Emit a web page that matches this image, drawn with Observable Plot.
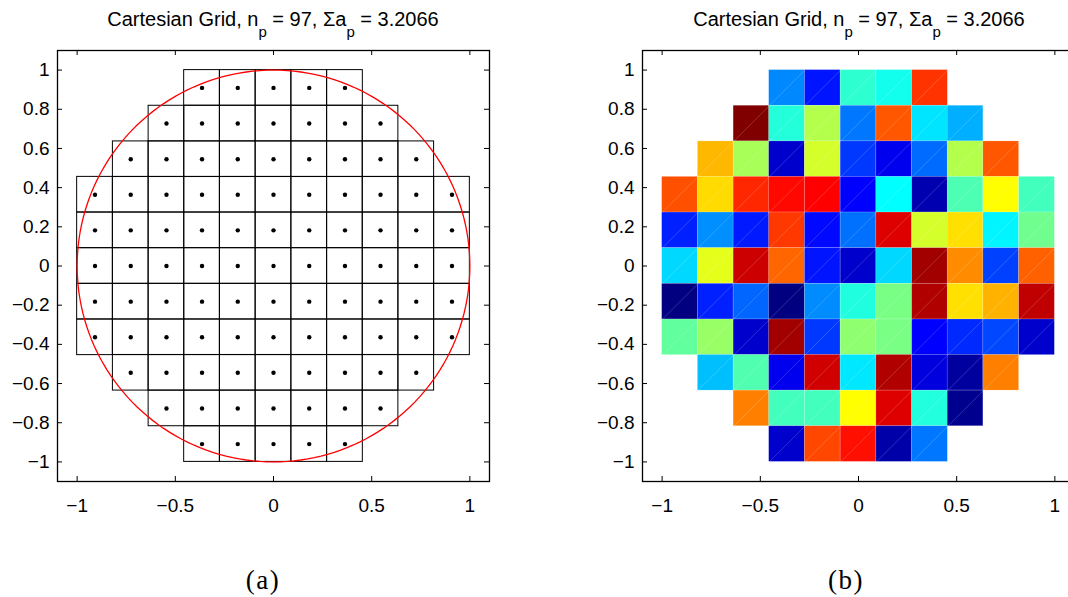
<!DOCTYPE html>
<html>
<head>
<meta charset="utf-8">
<script src="https://cdn.jsdelivr.net/npm/d3@7"></script>
<script src="https://cdn.jsdelivr.net/npm/@observablehq/plot@0.6"></script>
<style>
  html, body { margin: 0; padding: 0; background: #fff; }
  #wrap { position: relative; width: 1068px; height: 597px; overflow: hidden; background: #fff; }
  .panel { position: absolute; top: 0; width: 534px; height: 530px; }
  .panel svg { max-width: none !important; }
  .panel svg text { font-size: 19px; font-family: "Liberation Sans", Arial, sans-serif; fill: #000; }
  .title { position: absolute; top: 8px; font-family: "Liberation Sans", Arial, sans-serif; font-size: 20px; line-height: 23px; color: #000; white-space: nowrap; transform: translateX(-50%); }
  .title .sub { font-size: 15px; position: relative; top: 11px; }
  .cap { position: absolute; top: 565px; font-family: "Liberation Serif", "DejaVu Serif", serif; font-size: 27px; line-height: 31px; letter-spacing: 1.5px; color: #000; transform: translateX(-50%); }
</style>
</head>
<body>
<div id="wrap">
  <div id="left" class="panel" style="left:0px"></div>
  <div id="right" class="panel" style="left:585px"></div>
  <div class="title" style="left:273px">Cartesian Grid, n<span class="sub">p</span> = 97, Σa<span class="sub">p</span> = 3.2066</div>
  <div class="title" style="left:859px">Cartesian Grid, n<span class="sub">p</span> = 97, Σa<span class="sub">p</span> = 3.2066</div>
  <div class="cap" style="left:263px">(a)</div>
  <div class="cap" style="left:846px">(b)</div>
</div>
<script>
// ---- data ----
const centers = [-0.909, -0.727, -0.545, -0.364, -0.182, 0, 0.182, 0.364, 0.545, 0.727, 0.909];
const halfCell = 0.0909;
const rowCells = [5, 7, 9, 11, 11, 11, 11, 11, 9, 7, 5]; // rows from top to bottom
const cellValues = [
  [0.258, 0.145, 0.42, 0.393, 0.825],
  [1.0, 0.41, 0.55, 0.242, 0.79, 0.35, 0.297],
  [0.695, 0.54, 0.075, 0.584, 0.18, 0.108, 0.23, 0.55, 0.79],
  [0.797, 0.66, 0.837, 0.867, 0.875, 0.125, 0.375, 0.047, 0.45, 0.625, 0.44],
  [0.156, 0.265, 0.15, 0.82, 0.133, 0.235, 0.907, 0.584, 0.655, 0.365, 0.485],
  [0.337, 0.6, 0.925, 0.775, 0.145, 0.075, 0.337, 0.967, 0.7375, 0.1875, 0.78],
  [0.0, 0.156, 0.225, 0.0, 0.2625, 0.405, 0.495, 0.9525, 0.655, 0.7, 0.9375],
  [0.47, 0.525, 0.075, 0.967, 0.18, 0.515, 0.495, 0.125, 0.165, 0.195, 0.075],
  [0.3125, 0.453, 0.108, 0.92, 0.3525, 0.9525, 0.0925, 0.03, 0.75],
  [0.75, 0.44, 0.44, 0.625, 0.907, 0.407, 0.015],
  [0.075, 0.805, 0.86, 0.04, 0.242]
];
const xTicks = [-1, -0.5, 0, 0.5, 1];
const yTicks = [-1, -0.8, -0.6, -0.4, -0.2, 0, 0.2, 0.4, 0.6, 0.8, 1];
const jetStops = [0, 0.125, 0.375, 0.625, 0.875, 1];
const jetColors = ["#000080", "#0000ff", "#00ffff", "#ffff00", "#ff0000", "#800000"];

// build cells table
const cells = [];
rowCells.forEach((n, i) => {
  const y = centers[centers.length - 1 - i];
  const start = (centers.length - n) / 2;
  for (let k = 0; k < n; k++) {
    const x = centers[start + k];
    cells.push({x, y, v: cellValues[i][k]});
  }
});
// unit circle outline
const circle = d3.range(0, 361, 2).map(a => ({x: Math.cos(a * Math.PI / 180), y: Math.sin(a * Math.PI / 180)}));

const fmt = d => (d < 0 ? "\u2212" + String(-d) : String(d));
const W = 534, H = 530, mt = 50, mb = 49, ml = 57, mr = 45;
const frameH = H - mt - mb, frameW = W - ml - mr;

function baseMarks() {
  return [
    Plot.tickX(xTicks, {x: d => d, insetTop: frameH - 5, stroke: "#000"}),
    Plot.tickX(xTicks, {x: d => d, insetBottom: frameH - 5, stroke: "#000"}),
    Plot.tickY(yTicks, {y: d => d, insetRight: frameW - 5, stroke: "#000"}),
    Plot.tickY(yTicks, {y: d => d, insetLeft: frameW - 5, stroke: "#000"}),
    Plot.axisX({ticks: xTicks, tickSize: 0, tickPadding: 17, tickFormat: fmt}),
    Plot.axisY({ticks: yTicks, tickSize: 0, tickPadding: 8, tickFormat: fmt}),
    Plot.frame({stroke: "#000", strokeWidth: 1.3})
  ];
}

const common = {
  width: W, height: H, marginTop: mt, marginBottom: mb, marginLeft: ml, marginRight: mr,
  x: {domain: [-1.1, 1.1], label: null},
  y: {domain: [-1.1, 1.1], label: null},
  style: {fontFamily: "'Liberation Sans', Arial, sans-serif", fontSize: "19px", color: "#000", background: "#fff", overflow: "visible"}
};

const left = Plot.plot({
  ...common,
  marks: [
    Plot.rect(cells, {x1: d => d.x - halfCell, x2: d => d.x + halfCell, y1: d => d.y - halfCell, y2: d => d.y + halfCell, fill: "none", stroke: "#000", strokeWidth: 1}),
    Plot.dot(cells, {x: "x", y: "y", r: 2.2, fill: "#000", stroke: "none"}),
    Plot.line(circle, {x: "x", y: "y", stroke: "#ff0000", strokeWidth: 1.3}),
    ...baseMarks()
  ]
});
document.getElementById("left").appendChild(left);

const right = Plot.plot({
  ...common,
  color: {type: "linear", domain: jetStops, range: jetColors, interpolate: "rgb"},
  marks: [
    Plot.rect(cells, {x1: d => d.x - halfCell, x2: d => d.x + halfCell, y1: d => d.y - halfCell, y2: d => d.y + halfCell, fill: "v", stroke: "#fff", strokeOpacity: 0.25, strokeWidth: 0.6}),
    Plot.link(cells, {x1: d => d.x - halfCell, x2: d => d.x + halfCell, y1: d => d.y - halfCell, y2: d => d.y + halfCell, stroke: "#fff", strokeOpacity: 0.3, strokeWidth: 0.6}),
    ...baseMarks()
  ]
});
document.getElementById("right").appendChild(right);
</script>
</body>
</html>
